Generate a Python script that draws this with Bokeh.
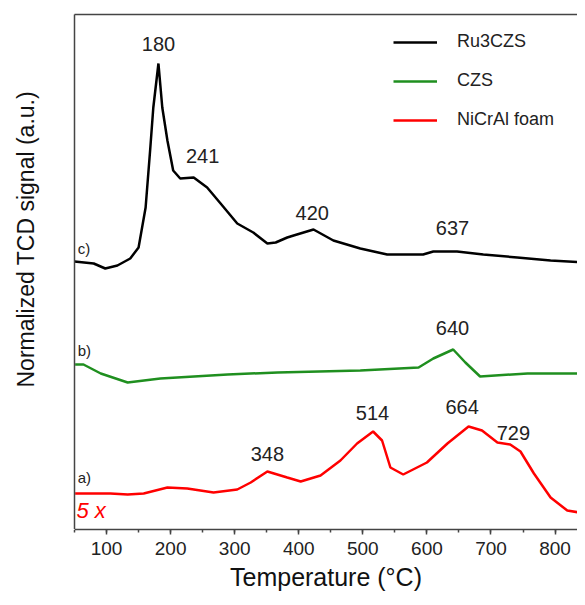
from bokeh.plotting import figure
from bokeh.models import (Range1d, LinearAxis, FixedTicker, SingleIntervalTicker,
                          Legend, LegendItem, Label, ColumnDataSource, Title)
from bokeh.embed import file_html
from bokeh.resources import INLINE
from bokeh.core.properties import value

FONT = "Liberation Sans"

# ---- data (temperature in °C, signal in arbitrary offset units) ----
ru_T = [50, 80, 98, 117, 137, 150, 161, 168, 173, 181, 187, 195, 204, 215, 236, 257,
        278, 304, 329, 351, 364, 382, 392, 423, 454, 496, 538, 594, 610, 647, 688,
        741, 793, 847]
ru_y = [268, 266, 261, 264, 271, 282, 322, 379, 422, 466, 422, 389, 359, 351, 352, 342,
        326, 306, 297, 286, 287, 292, 294, 300, 289, 281, 275, 275, 278, 278, 275,
        272, 269, 267]

czs_T = [51, 64, 91, 133, 184, 289, 367, 496, 587, 610, 641, 660, 683, 757, 844]
czs_y = [165, 165, 156, 147, 151, 155, 157, 159, 162, 171, 180, 167, 153, 156, 156]

foam_T = [51, 106, 133, 158, 195, 226, 267, 304, 325, 351, 382, 403, 434, 465, 491,
          516, 530, 543, 563, 600, 632, 665, 686, 710, 730, 746, 767, 793, 819, 847]
foam_y = [36, 36, 35, 36, 42, 41, 37, 40, 47, 58, 52, 48, 54, 69, 86,
          98, 89, 62, 55, 67, 86, 103, 99, 87, 85, 78, 56, 32, 19, 16]

peak_labels = ["180", "241", "420", "637", "640", "348", "514", "664", "729"]
peak_T = [181, 250, 421, 640, 640, 351, 515, 655, 735]
peak_y = [486, 374, 317, 302, 202, 76, 117, 123, 97]

curve_tags = ["c)", "b)", "a)"]
tag_T = [55, 55, 55]
tag_y = [281, 179, 52]

series_names = ["Ru3CZS", "CZS", "NiCrAl foam"]
series_colors = ["#000000", "#1f8f1f", "#ff0000"]

p = figure(width=577, height=597, output_backend="svg", toolbar_location=None,
           x_range=Range1d(50, 835), y_range=Range1d(0, 515),
           min_border_left=74, min_border_right=0, min_border_top=14,
           min_border_bottom=68, background_fill_color="white",
           border_fill_color="white", outline_line_color=None)
p.grid.visible = False

# x axis
xa = p.xaxis[0]
xa.ticker = SingleIntervalTicker(interval=100, num_minor_ticks=2)
xa.axis_label = "Temperature (°C)"
xa.axis_label_text_font = FONT
xa.axis_label_text_font_size = "25px"
xa.axis_label_text_font_style = "normal"
xa.axis_label_text_color = "#111111"
xa.axis_label_standoff = 5
xa.major_label_text_font = FONT
xa.major_label_text_font_size = "19px"
xa.major_label_text_color = "#222222"
xa.major_label_standoff = 7
xa.axis_line_color = "#444444"
xa.axis_line_width = 1.5
xa.major_tick_line_color = "#444444"
xa.major_tick_line_width = 1.5
xa.major_tick_out = 5
xa.major_tick_in = 0
xa.minor_tick_line_color = "#444444"
xa.minor_tick_line_width = 1.5
xa.minor_tick_out = 3
xa.minor_tick_in = 0

# y axis: line only; one blank white tick reserves room so the title sits far left
ya = p.yaxis[0]
ya.ticker = FixedTicker(ticks=[0])
ya.major_label_overrides = {0: ""}
ya.major_label_text_font_size = "1px"
ya.major_label_standoff = 0
ya.major_tick_line_color = "white"
ya.minor_tick_line_color = None
ya.major_tick_out = 23
ya.major_tick_in = 0
ya.axis_line_color = "#444444"
ya.axis_line_width = 1.5

# top border line
top = LinearAxis(ticker=FixedTicker(ticks=[]), major_label_text_font_size="0px",
                 major_tick_line_color=None, minor_tick_line_color=None,
                 axis_line_color="#444444", axis_line_width=1.5,
                 major_label_standoff=0)
p.add_layout(top, "above")

# y-axis title (vertical), placed like the original
ytitle = Title(text="Normalized TCD signal (a.u.)", align="left", offset=142,
               vertical_align="top", standoff=22, text_font=FONT,
               text_font_size="23px", text_font_style="normal", text_color="#111111")
p.add_layout(ytitle, "left")

r_ru = p.line(ru_T, ru_y, line_color=series_colors[0], line_width=2.5)
r_czs = p.line(czs_T, czs_y, line_color=series_colors[1], line_width=2.5)
r_foam = p.line(foam_T, foam_y, line_color=series_colors[2], line_width=2.5)

src_peaks = ColumnDataSource(dict(x=peak_T, y=peak_y, t=peak_labels))
p.text(x="x", y="y", text="t", source=src_peaks, text_font=value(FONT),
       text_font_size="20px", text_color="#222222", text_align="center",
       text_baseline="middle")

src_tags = ColumnDataSource(dict(x=tag_T, y=tag_y, t=curve_tags))
p.text(x="x", y="y", text="t", source=src_tags, text_font=value(FONT),
       text_font_size="15px", text_color="#222222", text_align="left",
       text_baseline="middle")

p.add_layout(Label(x=53, y=19, text="5 x", text_font=FONT, text_font_size="22px",
                   text_font_style="italic", text_color="#ff0000",
                   text_align="left", text_baseline="middle"))

legend = Legend(items=[LegendItem(label=series_names[0], renderers=[r_ru]),
                       LegendItem(label=series_names[1], renderers=[r_czs]),
                       LegendItem(label=series_names[2], renderers=[r_foam])],
                location=(319, 399), orientation="vertical",
                border_line_color=None, background_fill_alpha=0,
                padding=0, margin=0, spacing=18, glyph_width=44, glyph_height=20,
                label_height=20, label_standoff=20, label_text_font=FONT,
                label_text_font_size="18px", label_text_color="#222222")
p.add_layout(legend, "center")

open("out.html", "w").write(file_html(p, INLINE))
